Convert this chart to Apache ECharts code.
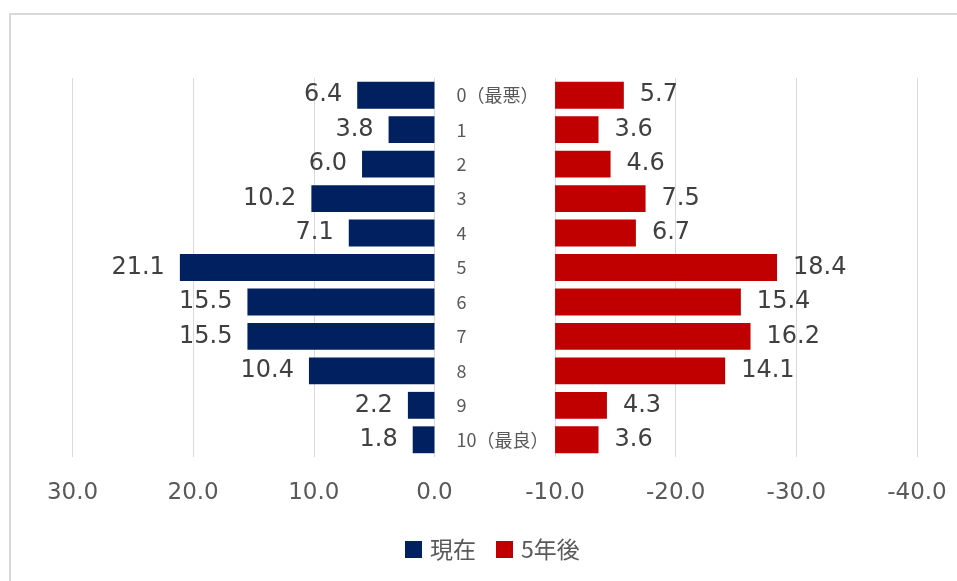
<!DOCTYPE html>
<html>
<head>
<meta charset="utf-8">
<script src="https://cdn.jsdelivr.net/npm/echarts@6/dist/echarts.min.js"></script>
<style>
html,body{margin:0;padding:0;background:#fff;}
#chart{width:957px;height:581px;}
</style>
</head>
<body>
<div id="chart"></div>
<script>
// ---- data ----
const categories = ['0（最悪）','1','2','3','4','5','6','7','8','9','10（最良）'];
const currentValues = [6.4, 3.8, 6.0, 10.2, 7.1, 21.1, 15.5, 15.5, 10.4, 2.2, 1.8];
const futureValues  = [5.7, 3.6, 4.6, 7.5, 6.7, 18.4, 15.4, 16.2, 14.1, 4.3, 3.6];
const seriesNames = ['現在', '5年後'];
const gapOffset = 10; // the right-hand bars start at -10 on the shared axis

const FONT = "'DejaVu Sans', 'Noto Sans CJK JP', sans-serif";
const CJK = "'Noto Sans CJK JP', sans-serif";
const chart = echarts.init(document.getElementById('chart'), null, {renderer: 'canvas'});

const option = {
  animation: false,
  backgroundColor: '#ffffff',
  textStyle: {fontFamily: FONT},
  graphic: [{
    type: 'rect', silent: true, z: -1,
    shape: {x: 10, y: 14, width: 1200, height: 1200},
    style: {fill: 'none', stroke: '#d9d9d9', lineWidth: 2}
  }],
  grid: {left: 72.5, right: 40, top: 78, bottom: 124, containLabel: false},
  legend: {
    data: seriesNames,
    left: 405, top: 538, padding: 0,
    itemWidth: 17, itemHeight: 17, itemGap: 20,
    icon: 'rect',
    textStyle: {fontSize: 23, color: '#595959', fontFamily: CJK, padding: [0,0,0,3]},
    selectedMode: false
  },
  xAxis: {
    type: 'value', min: -40, max: 30, interval: 10, inverse: true,
    axisLine: {show: false}, axisTick: {show: false},
    splitLine: {show: true, lineStyle: {color: '#d9d9d9', width: 1}},
    axisLabel: {
      fontSize: 23, color: '#595959', margin: 25, fontFamily: FONT,
      formatter: v => v.toFixed(1)
    }
  },
  yAxis: {
    type: 'category', data: categories, inverse: true,
    axisLine: {show: false}, axisTick: {show: false}, axisLabel: {show: false},
    splitLine: {show: false}
  },
  series: [
    {
      name: seriesNames[0], type: 'bar', stack: 'all', barWidth: '78%',
      data: currentValues,
      itemStyle: {color: '#002060'},
      label: {
        show: true, position: 'left', distance: 15,
        fontSize: 24, color: '#404040', fontFamily: FONT,
        formatter: p => currentValues[p.dataIndex].toFixed(1)
      }
    },
    {
      name: 'gap', type: 'bar', stack: 'all', barWidth: '78%', silent: true,
      data: categories.map(() => -gapOffset),
      itemStyle: {color: 'rgba(0,0,0,0)'},
      label: {
        show: true, position: 'insideLeft', distance: 22,
        fontSize: 18, color: '#595959', fontFamily: CJK,
        formatter: p => categories[p.dataIndex]
      },
      emphasis: {disabled: true}
    },
    {
      name: seriesNames[1], type: 'bar', stack: 'all', barWidth: '78%',
      data: futureValues.map(v => -v),
      itemStyle: {color: '#C00000'},
      label: {
        show: true, position: 'right', distance: 16,
        fontSize: 24, color: '#404040', fontFamily: FONT,
        formatter: p => futureValues[p.dataIndex].toFixed(1)
      }
    }
  ]
};
chart.setOption(option);
</script>
</body>
</html>
